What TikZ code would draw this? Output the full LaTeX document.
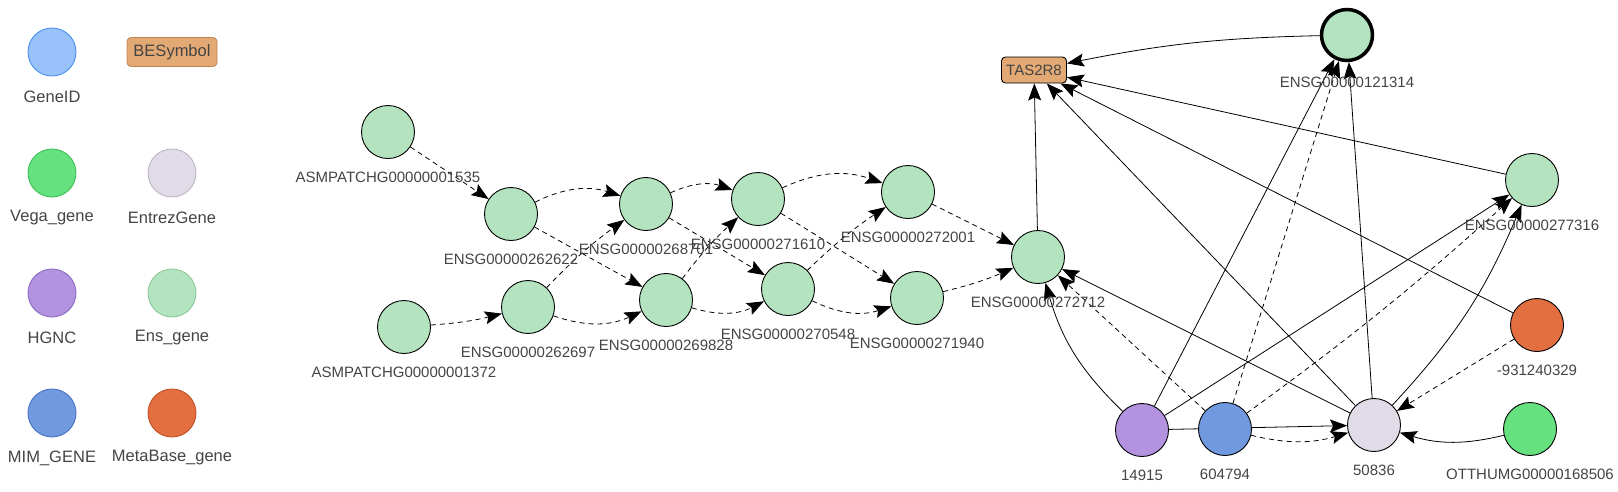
\documentclass[tikz,border=0pt]{standalone}
\usepackage{fontspec}
\setmainfont{Liberation Sans}
\usetikzlibrary{arrows.meta,backgrounds}

\definecolor{txtgray}{HTML}{444444}
\definecolor{ensfill}{HTML}{B3E4BF}
\definecolor{ensdraw}{HTML}{8FC79B}
\definecolor{vegafill}{HTML}{66E17F}
\definecolor{vegadraw}{HTML}{3FBF5A}
\definecolor{entrezfill}{HTML}{E0DBE6}
\definecolor{entrezdraw}{HTML}{BDB5C8}
\definecolor{hgncfill}{HTML}{B393E0}
\definecolor{hgncdraw}{HTML}{8D6CC2}
\definecolor{mimfill}{HTML}{7199DF}
\definecolor{mimdraw}{HTML}{4B74C2}
\definecolor{metafill}{HTML}{E36E3F}
\definecolor{metadraw}{HTML}{C0542A}
\definecolor{genefill}{HTML}{99C2FA}
\definecolor{genedraw}{HTML}{4A8FEE}
\definecolor{besymfill}{HTML}{E3A975}
\definecolor{besymdraw}{HTML}{C08450}

\begin{document}
\begin{tikzpicture}[x=1pt, y=-1pt,
  gnode/.style={circle, draw=black, line width=0.9pt, minimum size=53pt, inner sep=0pt, fill=ensfill},
  lgnode/.style={circle, line width=0.9pt, minimum size=48pt, inner sep=0pt},
  lbl/.style={font=\fontsize{15}{18}\selectfont, text=txtgray, inner sep=0pt},
  lglbl/.style={font=\fontsize{16.5}{19}\selectfont, text=txtgray, inner sep=0pt},
  besym/.style={rounded corners=4pt, fill=besymfill, line width=0.9pt, inner sep=0pt},
  link/.style={-{Stealth[length=17pt, width=13pt, inset=3pt]}, line width=0.8pt},
  dlink/.style={link, dash pattern=on 5pt off 4pt},
]
  \useasboundingbox (0,0) rectangle (1618,491);

  % Legend
  \foreach \n/\x/\y/\f/\d/\t in {lggene/52/52/genefill/genedraw/GeneID,
      lgvega/52/173/vegafill/vegadraw/Vega\_gene,
      lgentrez/172/173/entrezfill/entrezdraw/EntrezGene,
      lghgnc/52/293/hgncfill/hgncdraw/HGNC,
      lgens/172/293/ensfill/ensdraw/Ens\_gene,
      lgmim/52/413/mimfill/mimdraw/MIM\_GENE,
      lgmeta/172/413/metafill/metadraw/MetaBase\_gene} {
    \node[lgnode, fill=\f, draw=\d] (\n) at (\x,\y) {};
    \node[lglbl] (\n-lbl) at ([yshift=-45pt]\n.center) {\t};
  }
  \node[besym, draw=besymdraw, minimum width=90pt, minimum height=29pt,
    font=\fontsize{16.5}{19}\selectfont, text=txtgray] (lgbes) at (172,52) {BESymbol};

  % Ensembl chain
  \foreach \n/\x/\y/\t in {asm1535/388/132/ASMPATCHG00000001535,
      asm1372/404/327/ASMPATCHG00000001372,
      e262622/511/214/ENSG00000262622, e262697/528/307/ENSG00000262697,
      e268701/646/204/ENSG00000268701, e269828/666/300/ENSG00000269828,
      e271610/758/199/ENSG00000271610, e270548/788/289/ENSG00000270548,
      e272001/908/192/ENSG00000272001, e271940/917/298/ENSG00000271940,
      e272712/1038/257/ENSG00000272712, e277316/1532/180/ENSG00000277316} {
    \node[gnode] (\n) at (\x,\y) {};
    \node[lbl] (\n-lbl) at ([yshift=-45pt]\n.center) {\t};
  }
  \node[gnode, line width=3.5pt, minimum size=51pt] (e121314) at (1347,35) {};
  \node[lbl] (e121314-lbl) at ([yshift=-47pt]e121314.center) {ENSG00000121314};

  % Other sources
  \foreach \n/\x/\y/\f/\t in {n14915/1142/430/hgncfill/14915,
      n604794/1225/429/mimfill/604794,
      n50836/1374/425/entrezfill/50836,
      n931/1537/325/metafill/-931240329,
      otthumg/1530/429/vegafill/OTTHUMG00000168506} {
    \node[gnode, fill=\f] (\n) at (\x,\y) {};
    \node[lbl] (\n-lbl) at ([yshift=-45pt]\n.center) {\t};
  }

  % Symbol
  \node[besym, draw=black, minimum width=65pt, minimum height=26pt, lbl] (tas) at (1034,70) {TAS2R8};

  \begin{scope}[on background layer]
    % chain links
    \draw[dlink] (asm1535) -- (e262622);
    \draw[dlink] (asm1372) to[bend right=5] (e262697);
    \draw[dlink] (e262622) to[bend left=22] (e268701);
    \draw[dlink] (e262622) -- (e269828);
    \draw[dlink] (e262697) to[bend left=5] (e268701);
    \draw[dlink] (e262697) to[bend right=22] (e269828);
    \draw[dlink] (e268701) to[bend left=22] (e271610);
    \draw[dlink] (e268701) -- (e270548);
    \draw[dlink] (e269828) to[bend left=5] (e271610);
    \draw[dlink] (e269828) to[bend right=22] (e270548);
    \draw[dlink] (e271610) to[bend left=22] (e272001);
    \draw[dlink] (e271610) -- (e271940);
    \draw[dlink] (e270548) to[bend left=5] (e272001);
    \draw[dlink] (e270548) to[bend right=22] (e271940);
    \draw[dlink] (e272001) -- (e272712);
    \draw[dlink] (e271940) to[bend right=5] (e272712);

    % into TAS2R8
    \draw[link] (e272712) -- (tas);
    \draw[link] (e121314) to[bend right=5] (tas);
    \draw[link] (e277316) -- (tas);
    \draw[link] (n50836) -- (tas);
    \draw[link] (n931) -- (tas);

    % cross references
    \draw[link] (n14915) to[bend left=15] (e272712);
    \draw[dlink] (n604794) -- (e272712);
    \draw[link] (n50836) -- (e272712);
    \draw[link] (n14915) -- (e121314);
    \draw[dlink] (n604794) -- (e121314);
    \draw[link] (n50836) -- (e121314);
    \draw[link] (n14915) -- (e277316);
    \draw[dlink] (n604794) to[bend right=3] (e277316);
    \draw[link] (n50836) to[bend right=10] (e277316);
    \draw[link] (n14915) -- (n50836);
    \draw[dlink] (n604794) to[bend right=15] (n50836);
    \draw[dlink] (n931) -- (n50836);
    \draw[link] (otthumg) to[bend left=15] (n50836);
  \end{scope}
\end{tikzpicture}
\end{document}
